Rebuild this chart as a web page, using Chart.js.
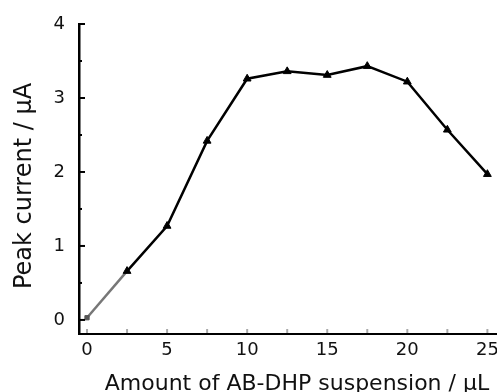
<!DOCTYPE html>
<html>
<head>
<meta charset="utf-8">
<script src="https://cdn.jsdelivr.net/npm/chart.js@4"></script>
<style>
  html, body { margin: 0; padding: 0; background: #fff; }
  #wrap { width: 497px; height: 392px; }
</style>
</head>
<body>
<div id="wrap"><canvas id="line-chart" width="497" height="392"></canvas></div>
<script>
// values
var amounts = [0, 2.5, 5, 7.5, 10, 12.5, 15, 17.5, 20, 22.5, 25];
var peakCurrent = [0.03, 0.66, 1.27, 2.42, 3.26, 3.36, 3.31, 3.43, 3.22, 2.57, 1.97];
var xTicks = [0, 5, 10, 15, 20, 25];
var xMinorTicks = [2.5, 7.5, 12.5, 17.5, 22.5];
var yTicks = [0, 1, 2, 3, 4];
var yMinorTicks = [0.5, 1.5, 2.5, 3.5];
var xTitle = 'Amount of AB-DHP suspension / \u00b5L';
var yTitle = 'Peak current / \u00b5A';

var font = '"DejaVu Sans", sans-serif';

// inner tick marks + axis titles
var axisExtras = {
  id: 'axisExtras',
  afterDraw: function(chart) {
    var ctx = chart.ctx;
    var xs = chart.scales.x, ys = chart.scales.y;
    var left = chart.chartArea.left, bottom = chart.chartArea.bottom;
    ctx.save();
    ctx.strokeStyle = '#000';
    ctx.lineWidth = 2;
    yTicks.forEach(function(v) {
      var py = ys.getPixelForValue(v);
      ctx.beginPath(); ctx.moveTo(left, py); ctx.lineTo(left + 6, py); ctx.stroke();
    });
    yMinorTicks.forEach(function(v) {
      var py = ys.getPixelForValue(v);
      ctx.beginPath(); ctx.moveTo(left, py); ctx.lineTo(left + 3, py); ctx.stroke();
    });
    ctx.strokeStyle = '#aaa';
    xTicks.concat(xMinorTicks).forEach(function(v) {
      var px = xs.getPixelForValue(v);
      ctx.beginPath(); ctx.moveTo(px, bottom - 1); ctx.lineTo(px, bottom - 5); ctx.stroke();
    });

    ctx.fillStyle = '#111';
    ctx.font = '22px ' + font;
    ctx.textAlign = 'center';
    ctx.textBaseline = 'alphabetic';
    ctx.fillText(xTitle, 297, 390);

    ctx.translate(31, 186);
    ctx.rotate(-Math.PI / 2);
    ctx.font = '24px ' + font;
    ctx.fillText(yTitle, 0, 0);
    ctx.restore();
  }
};

new Chart(document.getElementById('line-chart'), {
  type: 'line',
  data: {
    datasets: [{
      data: amounts.map(function(a, i) { return { x: a, y: peakCurrent[i] }; }),
      borderColor: '#000',
      backgroundColor: '#000',
      borderWidth: 2.5,
      pointStyle: function(c) { return c.dataIndex === 0 ? 'rect' : 'triangle'; },
      pointRadius: function(c) { return c.dataIndex === 0 ? 3 : 4.5; },
      pointBackgroundColor: function(c) { return c.dataIndex === 0 ? '#555' : '#000'; },
      pointBorderColor: function(c) { return c.dataIndex === 0 ? '#555' : '#000'; },
      pointBorderWidth: 1,
      segment: {
        borderColor: function(c) { return c.p0DataIndex === 0 ? '#777' : '#000'; }
      },
      fill: false,
      tension: 0
    }]
  },
  options: {
    responsive: false,
    animation: false,
    layout: { autoPadding: false, padding: { top: 24, right: 0, bottom: 0, left: 0 } },
    plugins: { legend: { display: false }, tooltip: { enabled: false } },
    scales: {
      x: {
        type: 'linear',
        min: -0.5,
        max: 25.6,
        afterBuildTicks: function(s) { s.ticks = xTicks.map(function(v) { return { value: v }; }); },
        afterFit: function(s) { s.height = 58; s.paddingLeft = 0; s.paddingRight = 0; },
        grid: { display: true, drawOnChartArea: false, drawTicks: false },
        border: { display: true, color: '#000', width: 2 },
        ticks: { color: '#111', font: { family: font, size: 18 }, padding: 6, maxRotation: 0 }
      },
      y: {
        min: -0.19,
        max: 4,
        afterBuildTicks: function(s) { s.ticks = yTicks.map(function(v) { return { value: v }; }); },
        afterFit: function(s) { s.width = 79; s.paddingTop = 0; s.paddingBottom = 0; },
        grid: { display: true, drawOnChartArea: false, drawTicks: false },
        border: { display: true, color: '#000', width: 2.5 },
        ticks: { color: '#111', font: { family: font, size: 18 }, padding: 14 }
      }
    }
  },
  plugins: [axisExtras]
});
</script>
</body>
</html>
